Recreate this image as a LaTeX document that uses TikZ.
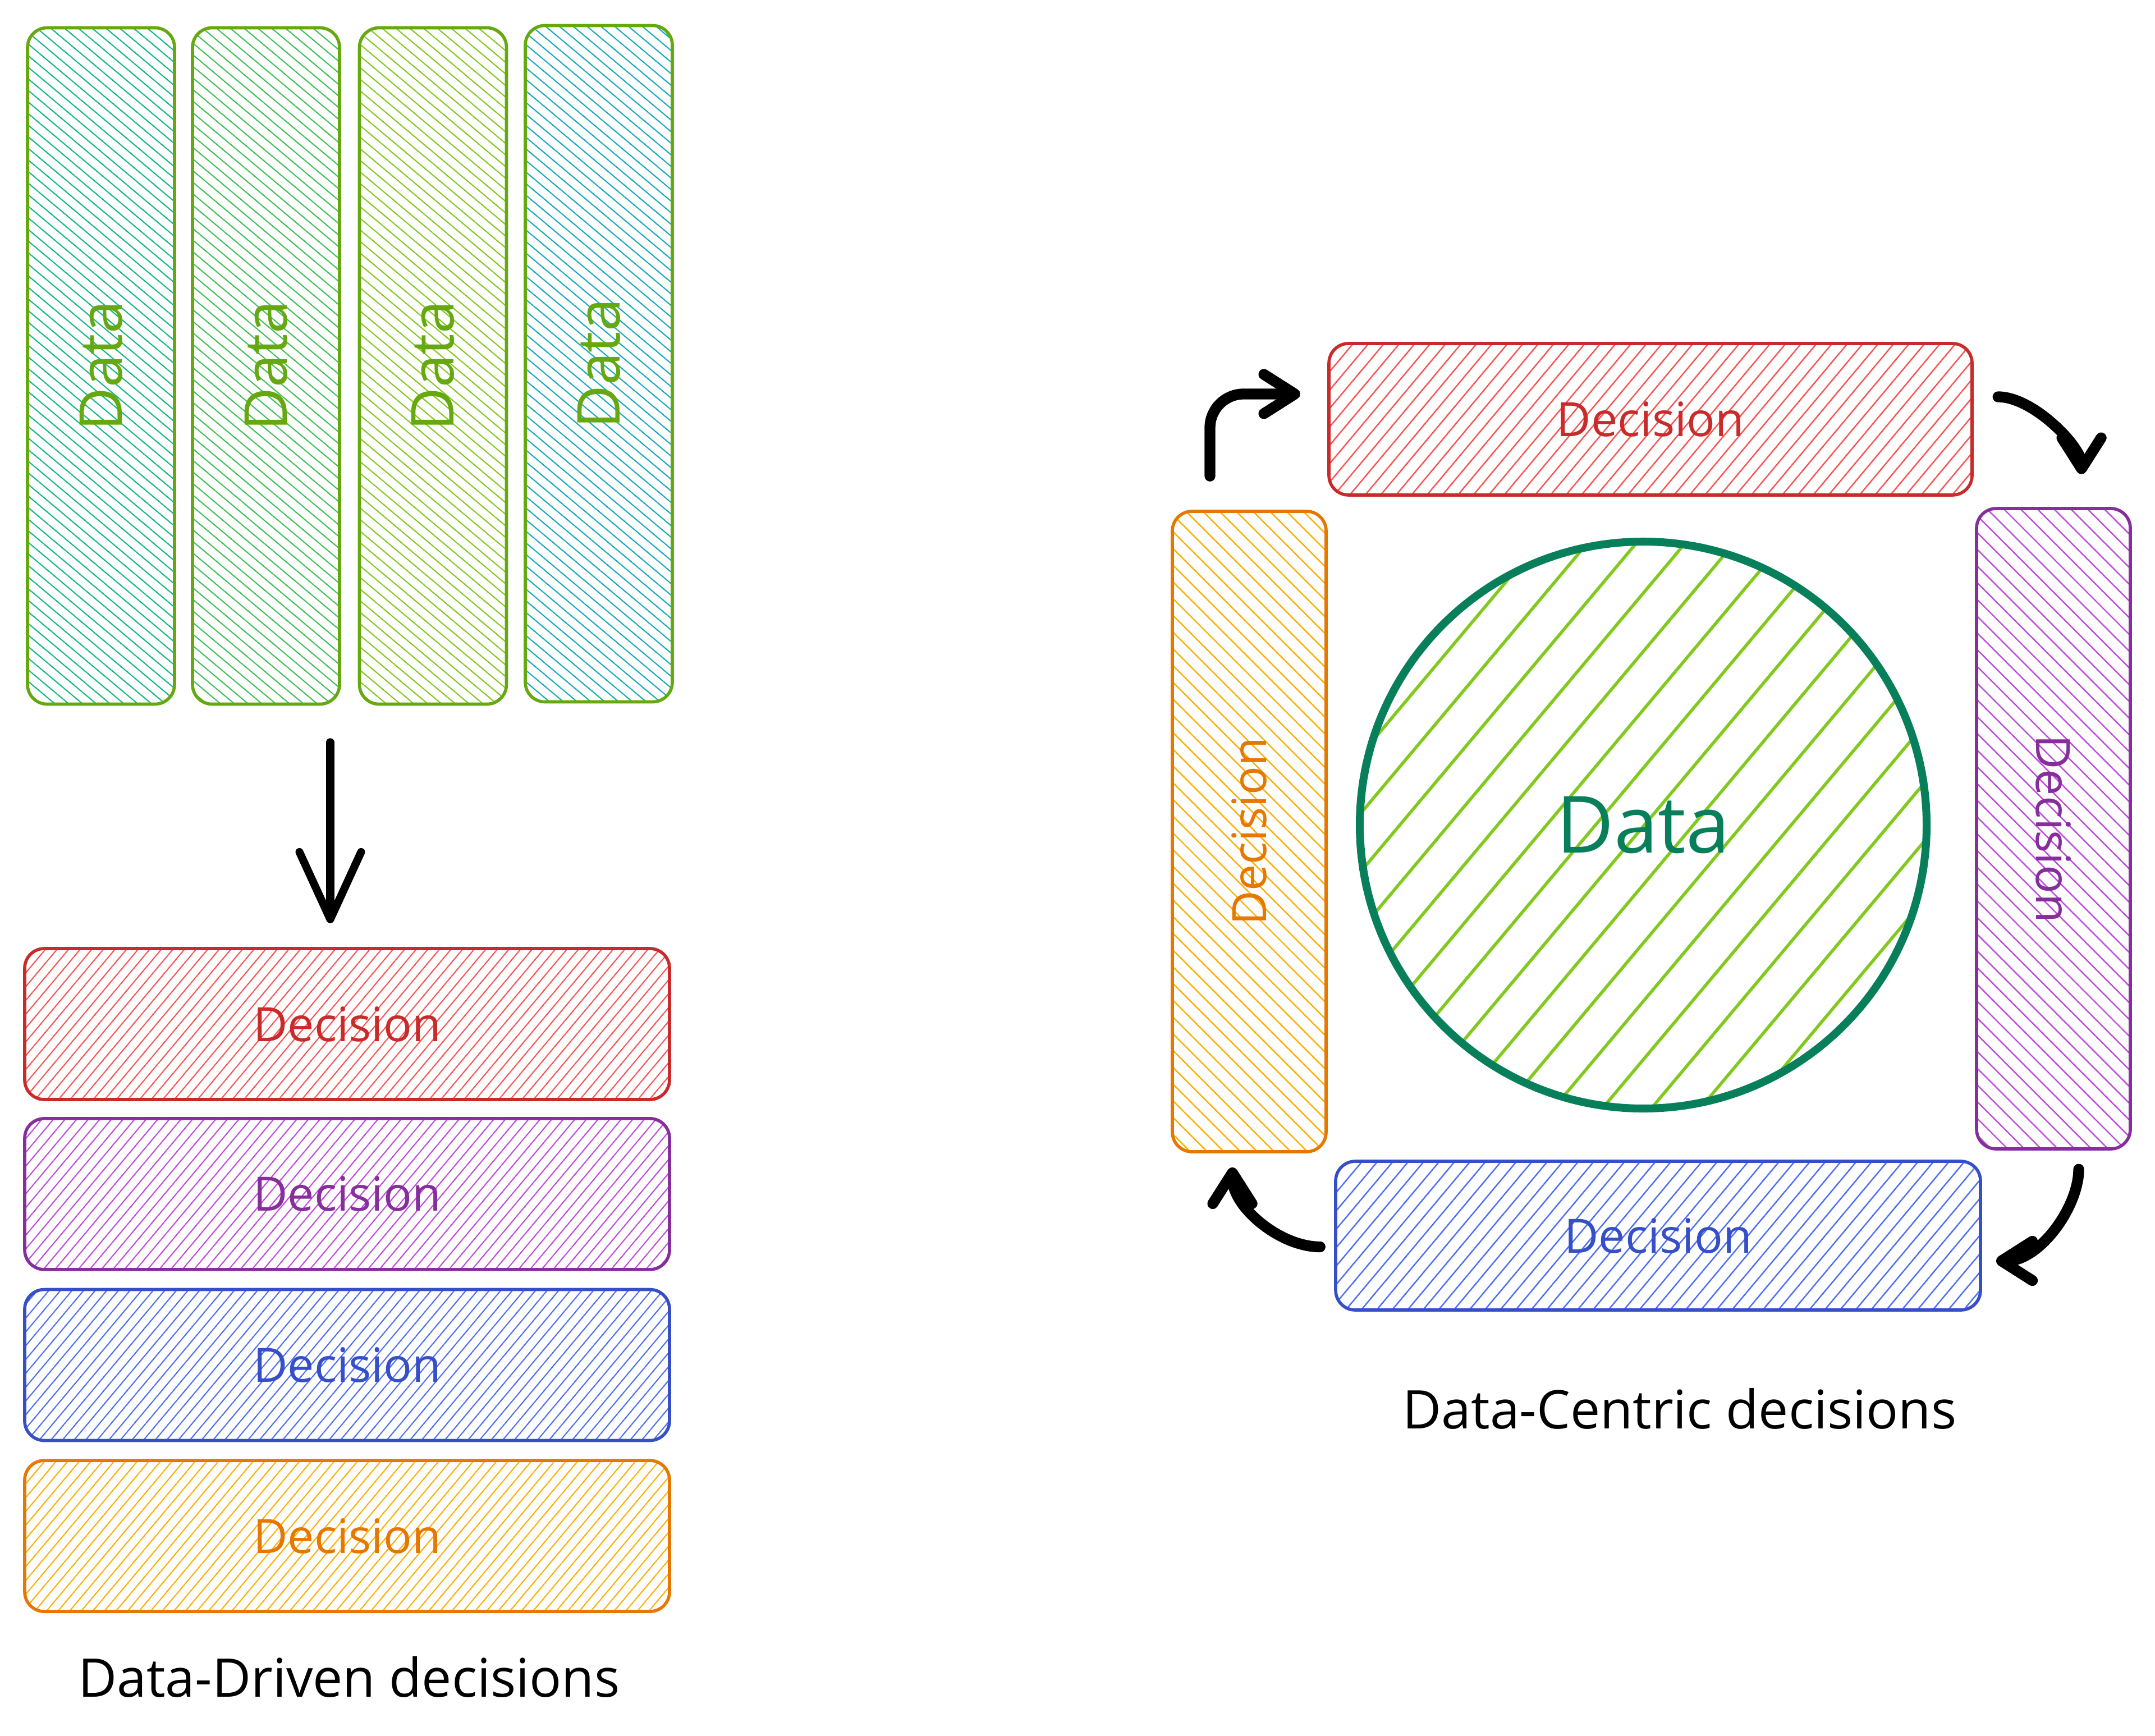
\documentclass[tikz,border=0pt]{standalone}
\usepackage{fontspec}
\setmainfont{Open Sans}
\usepackage{xcolor}
\usepackage{graphicx}
\usepackage{tikz}
\usetikzlibrary{arrows.meta,positioning,patterns.meta,calc}

\definecolor{barline}{HTML}{66A80F}
\definecolor{teal1}{HTML}{12B886}
\definecolor{green1}{HTML}{40C057}
\definecolor{lime1}{HTML}{82C91E}
\definecolor{cyan1}{HTML}{15AABF}
\definecolor{redline}{HTML}{C92A2A}
\definecolor{redfill}{HTML}{FA5252}
\definecolor{violetline}{HTML}{862E9C}
\definecolor{violetfill}{HTML}{BE4BDB}
\definecolor{blueline}{HTML}{364FC7}
\definecolor{bluefill}{HTML}{4C6EF5}
\definecolor{orangeline}{HTML}{E67700}
\definecolor{orangefill}{HTML}{FAB005}
\definecolor{coreline}{HTML}{087F5B}

\begin{document}
\begin{tikzpicture}[x=1cm, y=-1cm,
    databar/.style={draw=barline, line width=1.6pt, rounded corners=0.35cm,
        minimum width=2.62cm, minimum height=12.05cm, inner sep=0pt,
        text=barline, font=\fontsize{30}{36}\selectfont,
        pattern={Lines[angle=-40,distance=4.5pt,line width=0.6pt]}, pattern color=#1},
    flatbox/.style 2 args={draw=#1, text=#1, line width=1.6pt, rounded corners=0.35cm,
        minimum width=11.49cm, minimum height=2.69cm, inner sep=0pt,
        font=\fontsize{24}{28}\selectfont,
        pattern={Lines[angle=50,distance=4.5pt,line width=0.6pt]}, pattern color=#2},
    loopbox/.style 2 args={draw=#1, text=#1, line width=1.6pt, rounded corners=0.35cm,
        inner sep=0pt, font=\fontsize{24}{28}\selectfont,
        pattern={Lines[angle=50,distance=6pt,line width=0.7pt]}, pattern color=#2},
    standbox/.style 2 args={draw=#1, text=#1, line width=1.6pt, rounded corners=0.35cm,
        inner sep=0pt, minimum width=2.74cm, minimum height=11.41cm,
        font=\fontsize{24}{28}\selectfont,
        pattern={Lines[angle=-45,distance=6pt,line width=0.7pt]}, pattern color=#2},
    flow/.style={line width=4pt, line cap=round,
        -{Straight Barb[round,length=1.2cm,width=1.1cm]}},
    turn/.style={line width=5.5pt, line cap=round,
        -{Straight Barb[round,length=0.55cm,width=0.7cm]}},
    caption/.style={font=\fontsize{27}{32}\selectfont}
]
    \useasboundingbox (0,0) rectangle (38.4,30.92);

    % Data columns
    \node[databar=teal1]  (data1) at (1.80,6.52)  {\rotatebox{90}{Data}};
    \node[databar=green1] (data2) at (4.74,6.52)  {\rotatebox{90}{Data}};
    \node[databar=lime1]  (data3) at (7.715,6.52) {\rotatebox{90}{Data}};
    \node[databar=cyan1]  (data4) at (10.67,6.48) {\rotatebox{90}{Data}};

    % Decisions, stacked
    \node[flatbox={redline}{redfill}] (red1) at (6.185,18.245) {Decision};
    \node[flatbox={violetline}{violetfill}, below=0.3cm of red1] (violet1) {Decision};
    \node[flatbox={blueline}{bluefill}, below=0.3cm of violet1] (blue1) {Decision};
    \node[flatbox={orangeline}{orangefill}, below=0.3cm of blue1] (orange1) {Decision};

    \draw[flow, shorten <=0.65cm, shorten >=0.44cm]
        ([xshift=-0.3cm]red1.north |- data2.south) -- ([xshift=-0.3cm]red1.north);

    \node[caption] (drivencap) at (6.22,29.88) {Data-Driven decisions};

    % Data in the middle
    \node[circle, draw=coreline, line width=4pt, minimum size=10.1cm, inner sep=0pt,
        text=coreline, font=\fontsize{40}{48}\selectfont,
        pattern={Lines[angle=50,distance=19pt,line width=1.6pt]}, pattern color=lime1]
        (core) at (29.28,14.7) {Data};

    % Decisions around it
    \node[loopbox={redline}{redfill}, minimum width=11.46cm, minimum height=2.70cm]
        (red2) at (29.41,7.47) {Decision};
    \node[standbox={violetline}{violetfill}] (violet2) at (36.59,14.765) {\rotatebox{-90}{Decision}};
    \node[loopbox={blueline}{bluefill}, minimum width=11.49cm, minimum height=2.65cm]
        (blue2) at (29.545,22.015) {Decision};
    \node[standbox={orangeline}{orangefill}] (orange2) at (22.26,14.815) {\rotatebox{90}{Decision}};

    % Cycle
    \draw[turn, rounded corners=0.6cm, shorten <=0.6cm, shorten >=0.5cm]
        ([xshift=-0.7cm]orange2.north) |- ([yshift=0.45cm]red2.west);
    \draw[turn, shorten <=0.45cm, shorten >=0.6cm]
        ([yshift=0.4cm]red2.east) to[out=0, in=90] ([xshift=0.5cm]violet2.north);
    \draw[turn, shorten <=0.35cm, shorten >=0.25cm]
        ([xshift=0.45cm]violet2.south) to[out=-90, in=0] ([yshift=-0.45cm]blue2.east);
    \draw[turn, shorten <=0.25cm, shorten >=0.25cm]
        ([yshift=-0.2cm]blue2.west) to[out=180, in=-90] ([xshift=-0.3cm]orange2.south);

    \node[caption] (centriccap) at (29.93,25.10) {Data-Centric decisions};
\end{tikzpicture}
\end{document}
